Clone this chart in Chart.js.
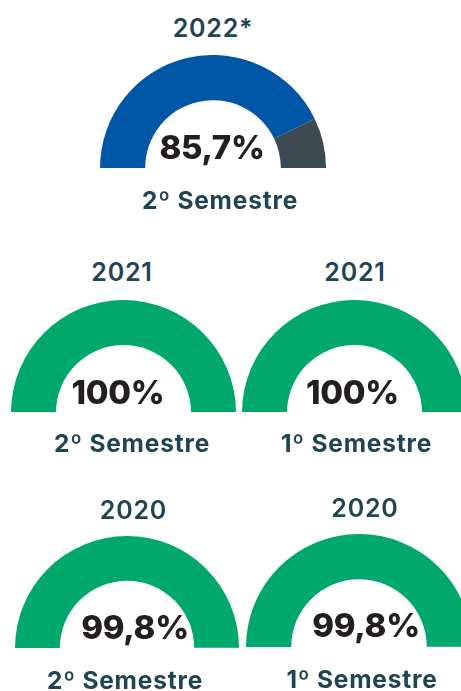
<!DOCTYPE html>
<html><head><meta charset="utf-8">
<script src="https://cdn.jsdelivr.net/npm/chart.js@4/dist/chart.umd.min.js"></script>
<style>
html,body{margin:0;padding:0;background:#fff;width:461px;height:691px;overflow:hidden;}
.box{position:absolute;}
.t{position:absolute;transform:translate(-50%,-50%);white-space:nowrap;font-family:Inter,"Open Sans",sans-serif;font-weight:700;}
.yr{font-size:25px;color:#1f4452;letter-spacing:0.8px;font-weight:600;}
.val{font-size:33px;color:#231f20;font-weight:800;letter-spacing:-0.3px;}
.sem{font-size:24.5px;color:#1f4452;letter-spacing:0.8px;}
</style></head><body>
<script>
// ---- data ----
const years = ["2022*", "2021", "2021", "2020", "2020"];
const semesters = ["2º Semestre", "2º Semestre", "1º Semestre", "2º Semestre", "1º Semestre"];
const values = [85.7, 100, 100, 99.8, 99.8];
// ---- layout (positions / styles) ----
const layout = [
  {cx:213, cy:168, r:113, title:[213,28], val:[212,147], sem:[220,200]},
  {cx:123.5, cy:412, r:112.5, title:[122,272], val:[118,392], sem:[132,443]},
  {cx:354.5, cy:412, r:112.5, title:[355,272], val:[352.5,392], sem:[356.5,443]},
  {cx:127, cy:648, r:112, title:[133.5,510], val:[135,627], sem:[125,680]},
  {cx:359, cy:647, r:113, title:[365,508], val:[366,625], sem:[362,679]}
];
const fillColors = ["#0057a8", "#00a86b", "#00a86b", "#00a86b", "#00a86b"];
const restColor = ["#3e4a52", "#00a86b", "#00a86b", "#00a86b", "#00a86b"];

function addText(cls, txt, pos){
  const d = document.createElement('div');
  d.className = 't ' + cls;
  d.textContent = txt;
  d.style.left = pos[0] + 'px';
  d.style.top = pos[1] + 'px';
  document.body.appendChild(d);
}

values.forEach((v, i) => {
  const L = layout[i];
  const box = document.createElement('div');
  box.className = 'box';
  box.style.left = (L.cx - L.r) + 'px';
  box.style.top = (L.cy - L.r) + 'px';
  box.style.width = (2 * L.r) + 'px';
  box.style.height = L.r + 'px';
  const cv = document.createElement('canvas');
  box.appendChild(cv);
  document.body.appendChild(box);
  new Chart(cv, {
    type: 'doughnut',
    data: {
      labels: ['valor', 'restante'],
      datasets: [{
        data: [v, 100 - v],
        backgroundColor: [fillColors[i], restColor[i]],
        borderWidth: 0,
        hoverOffset: 0
      }]
    },
    options: {
      responsive: true,
      maintainAspectRatio: false,
      animation: false,
      rotation: -90,
      circumference: 180,
      cutout: '60%',
      layout: {padding: 0},
      plugins: {legend: {display: false}, tooltip: {enabled: false}},
      events: []
    }
  });
  addText('yr', years[i], L.title);
  addText('val', String(v).replace('.', ',') + '%', L.val);
  addText('sem', semesters[i], L.sem);
});
</script>
</body></html>
